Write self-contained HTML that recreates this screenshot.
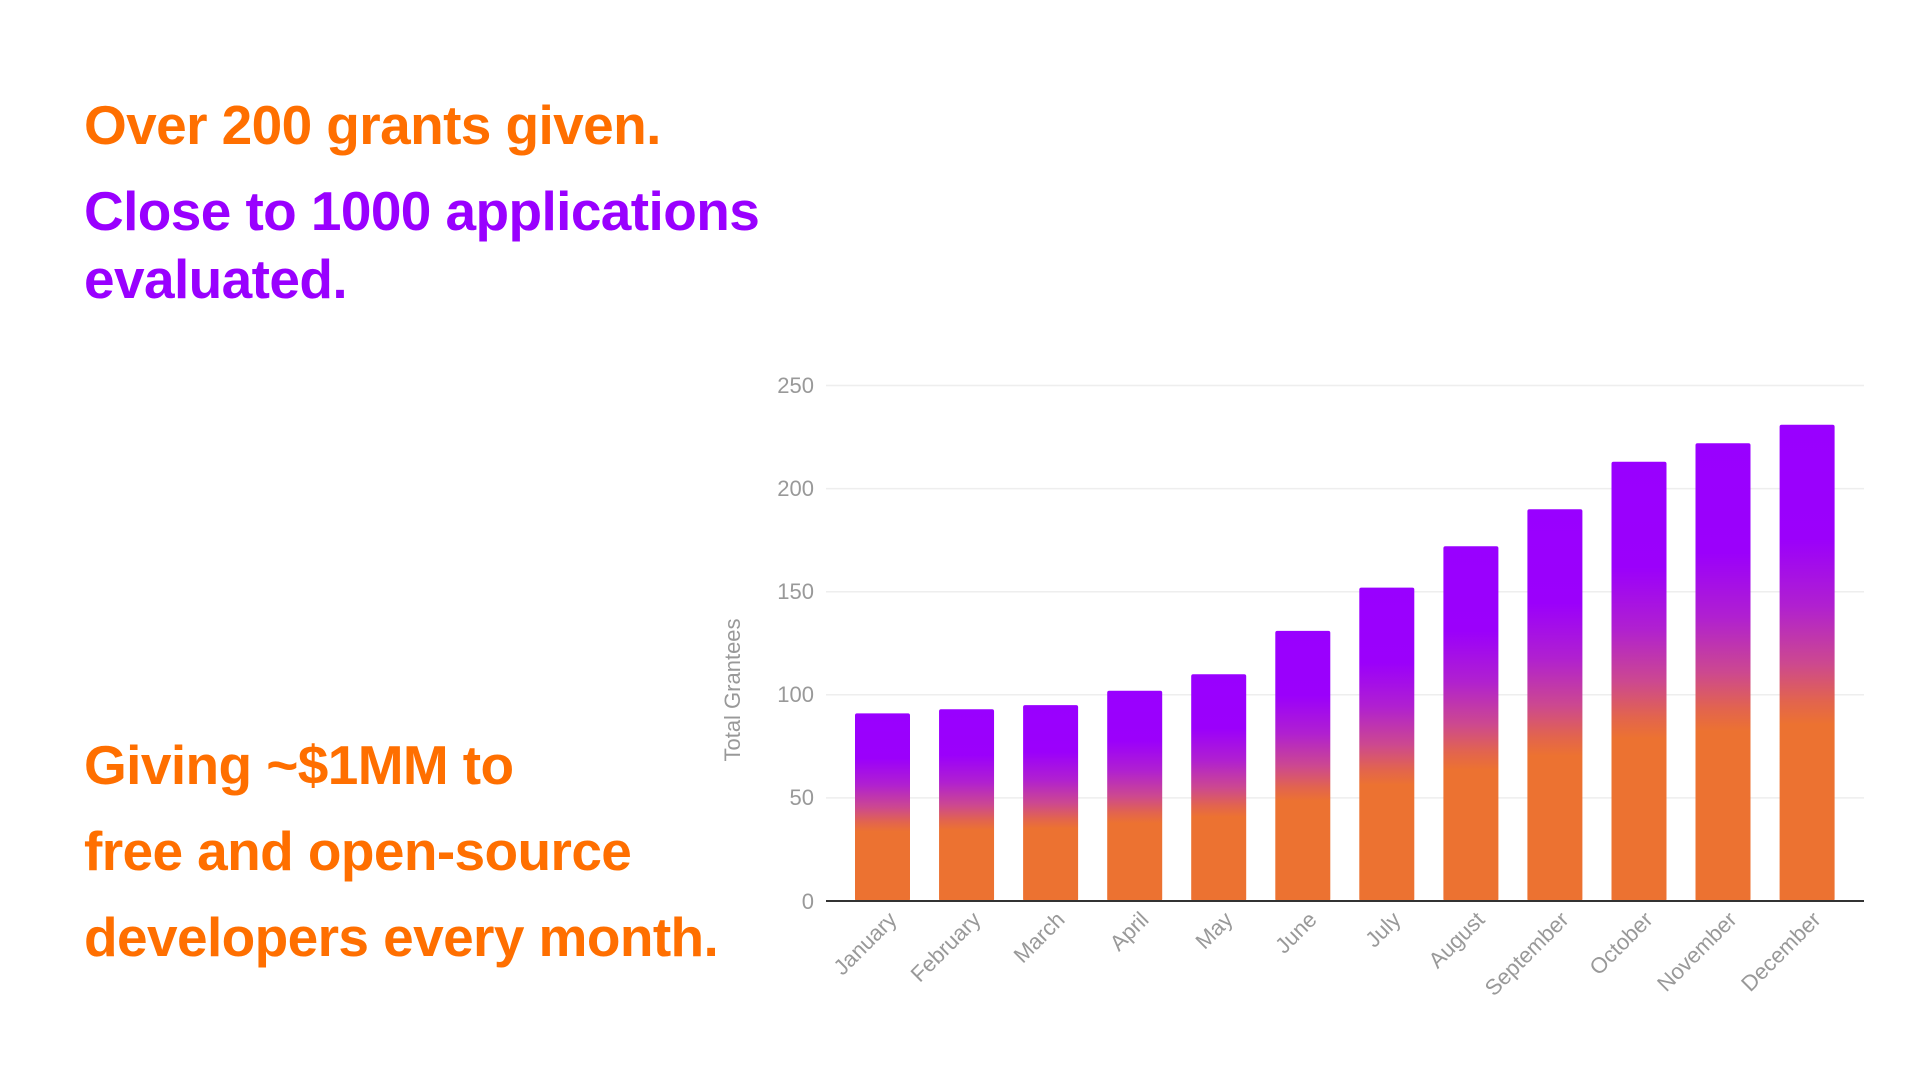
<!DOCTYPE html>
<html><head><meta charset="utf-8"><style>
html,body{margin:0;padding:0;background:#fff;}
body{width:1920px;height:1080px;position:relative;overflow:hidden;font-family:"Liberation Sans",Arial,sans-serif;}
.h{position:absolute;left:84px;font-weight:bold;font-size:55px;letter-spacing:-0.6px;white-space:nowrap;line-height:1;}
.o{color:#ff6f00;}
.p{color:#9900ff;}
svg{position:absolute;left:0;top:0;}
</style></head><body>
<div class="h o" style="top:98px">Over 200 grants given.</div>
<div class="h p" style="top:184px">Close to 1000 applications</div>
<div class="h p" style="top:252px">evaluated.</div>
<div class="h o" style="top:738px">Giving ~$1MM to</div>
<div class="h o" style="top:824px">free and open-source</div>
<div class="h o" style="top:910px">developers every month.</div>
<svg width="1920" height="1080" xmlns="http://www.w3.org/2000/svg">
<defs>
<linearGradient id="g" x1="0" y1="0" x2="0" y2="1">
<stop offset="0" stop-color="#9900ff"/>
<stop offset="0.24" stop-color="#9b00fb"/>
<stop offset="0.38" stop-color="#b020d0"/>
<stop offset="0.50" stop-color="#cc4890"/>
<stop offset="0.58" stop-color="#e2644e"/>
<stop offset="0.63" stop-color="#ec7231"/>
<stop offset="1" stop-color="#ec7231"/>
</linearGradient>
</defs>
<g stroke="#eeeeee" stroke-width="1.5">
<line x1="826" y1="385.5" x2="1864" y2="385.5"/>
<line x1="826" y1="488.6" x2="1864" y2="488.6"/>
<line x1="826" y1="591.7" x2="1864" y2="591.7"/>
<line x1="826" y1="694.8" x2="1864" y2="694.8"/>
<line x1="826" y1="797.9" x2="1864" y2="797.9"/>
</g>
<g font-size="22" fill="#999" text-anchor="end">
<text x="814" y="393">250</text>
<text x="814" y="496">200</text>
<text x="814" y="599">150</text>
<text x="814" y="702">100</text>
<text x="814" y="805">50</text>
<text x="814" y="909">0</text>
</g>
<text transform="translate(740,690) rotate(-90)" font-size="22" fill="#999" text-anchor="middle">Total Grantees</text>
<g fill="url(#g)">
<rect x="855" y="713.4" width="55" height="187.6" rx="2"/>
<rect x="939.05" y="709.2" width="55" height="191.8" rx="2"/>
<rect x="1023.1" y="705.1" width="55" height="195.9" rx="2"/>
<rect x="1107.2" y="690.7" width="55" height="210.3" rx="2"/>
<rect x="1191.2" y="674.2" width="55" height="226.8" rx="2"/>
<rect x="1275.3" y="630.9" width="55" height="270.1" rx="2"/>
<rect x="1359.3" y="587.6" width="55" height="313.4" rx="2"/>
<rect x="1443.4" y="546.3" width="55" height="354.7" rx="2"/>
<rect x="1527.4" y="509.2" width="55" height="391.8" rx="2"/>
<rect x="1611.5" y="461.8" width="55" height="439.2" rx="2"/>
<rect x="1695.5" y="443.2" width="55" height="457.8" rx="2"/>
<rect x="1779.6" y="424.7" width="55" height="476.3" rx="2"/>
</g>
<line x1="826" y1="901" x2="1864" y2="901" stroke="#333" stroke-width="2"/>
<g font-size="22" fill="#999" text-anchor="end">
<text transform="translate(898,921) rotate(-45)">January</text>
<text transform="translate(982,921) rotate(-45)">February</text>
<text transform="translate(1066,921) rotate(-45)">March</text>
<text transform="translate(1150,921) rotate(-45)">April</text>
<text transform="translate(1234,921) rotate(-45)">May</text>
<text transform="translate(1318,921) rotate(-45)">June</text>
<text transform="translate(1402,921) rotate(-45)">July</text>
<text transform="translate(1486,921) rotate(-45)">August</text>
<text transform="translate(1570,921) rotate(-45)">September</text>
<text transform="translate(1654,921) rotate(-45)">October</text>
<text transform="translate(1738,921) rotate(-45)">November</text>
<text transform="translate(1822,921) rotate(-45)">December</text>
</g>
</svg>
</body></html>
